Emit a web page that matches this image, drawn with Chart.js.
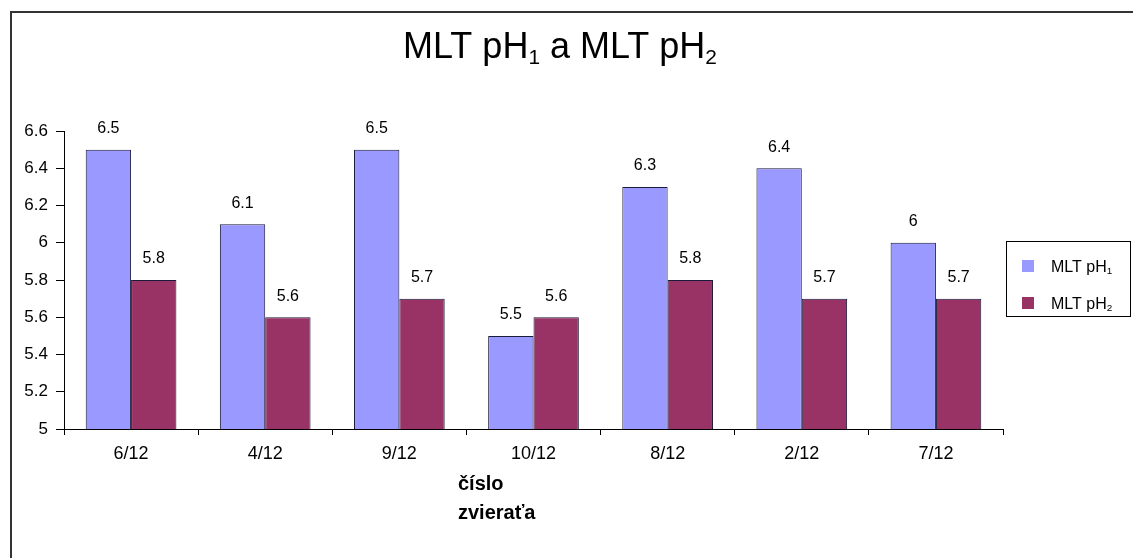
<!DOCTYPE html>
<html>
<head>
<meta charset="utf-8">
<script src="https://cdn.jsdelivr.net/npm/chart.js@4/dist/chart.umd.min.js"></script>
<style>
  html, body { margin: 0; padding: 0; background: #fff; }
  #wrap { width: 1133px; height: 558px; }
</style>
</head>
<body>
<div id="wrap"><canvas id="c" width="1133" height="558"></canvas></div>
<script>
// Animal numbers along the category axis
const categories = ['6/12', '4/12', '9/12', '10/12', '8/12', '2/12', '7/12'];
// Series values (pH)
const ph1Values = [6.5, 6.1, 6.5, 5.5, 6.3, 6.4, 6.0];
const ph2Values = [5.8, 5.6, 5.7, 5.6, 5.8, 5.7, 5.7];
// Series names
const seriesNames = ['MLT pH₁', 'MLT pH₂'];
// Value axis ticks and their labels
const yTickValues = [5, 5.2, 5.4, 5.6, 5.8, 6, 6.2, 6.4, 6.6];
const yTickLabels = ['5', '5.2', '5.4', '5.6', '5.8', '6', '6.2', '6.4', '6.6'];
const titleText = 'MLT pH₁ a MLT pH₂';
const axisTitleLines = ['číslo', 'zvieraťa'];

const FONT = "'Liberation Sans', Arial, sans-serif";
const SUBS = '₀₁₂₃₄₅₆₇₈₉';

// Split text into normal runs and subscript digit runs
function runs(text) {
  const out = [];
  for (const ch of text) {
    const i = SUBS.indexOf(ch);
    const sub = i >= 0;
    const c = sub ? String(i) : ch;
    if (out.length && out[out.length - 1].sub === sub) out[out.length - 1].t += c;
    else out.push({ t: c, sub });
  }
  return out;
}
function richWidth(ctx, text, size, subRatio) {
  let w = 0;
  for (const r of runs(text)) {
    ctx.font = (r.sub ? size * subRatio : size) + 'px ' + FONT;
    w += ctx.measureText(r.t).width;
  }
  return w;
}
function drawRich(ctx, text, x, y, size, subRatio, subDrop) {
  ctx.textAlign = 'left';
  ctx.textBaseline = 'alphabetic';
  for (const r of runs(text)) {
    ctx.font = (r.sub ? size * subRatio : size) + 'px ' + FONT;
    ctx.fillText(r.t, x, r.sub ? y + size * subDrop : y);
    x += ctx.measureText(r.t).width;
  }
}

const decorPlugin = {
  id: 'decor',
  beforeDraw(chart) {
    const ctx = chart.ctx;
    ctx.save();
    ctx.fillStyle = '#fff';
    ctx.fillRect(0, 0, chart.width, chart.height);
    // frame
    ctx.strokeStyle = '#333';
    ctx.lineWidth = 2;
    ctx.beginPath();
    ctx.moveTo(11, chart.height + 2);
    ctx.lineTo(11, 12);
    ctx.lineTo(chart.width + 2, 12);
    ctx.stroke();
    ctx.restore();
  },
  afterDraw(chart) {
    const ctx = chart.ctx;
    ctx.save();
    ctx.fillStyle = '#000';
    // title
    const tSize = 36;
    const tw = richWidth(ctx, titleText, tSize, 0.58);
    drawRich(ctx, titleText, 560 - tw / 2, 58, tSize, 0.58, 0.18);

    // axis title, left aligned lines
    ctx.font = 'bold 20px ' + FONT;
    ctx.textAlign = 'left';
    ctx.textBaseline = 'alphabetic';
    axisTitleLines.forEach((line, i) => ctx.fillText(line, 458, 490 + i * 29));

    // legend
    const lx = 1006, ly = 241, lw = 124, lh = 75;
    ctx.strokeStyle = '#000';
    ctx.lineWidth = 1;
    ctx.strokeRect(lx + 0.5, ly + 0.5, lw, lh);
    chart.data.datasets.forEach((ds, i) => {
      const cy = 266 + i * 37;
      ctx.fillStyle = ds.backgroundColor;
      ctx.fillRect(1022, cy - 6, 12, 12);
      ctx.fillStyle = '#000';
      drawRich(ctx, ds.label, 1051, cy + 6, 16, 0.62, 0.15);
    });

    // value labels above bars
    ctx.font = '16px ' + FONT;
    ctx.textAlign = 'center';
    ctx.textBaseline = 'middle';
    ctx.fillStyle = '#000';
    chart.data.datasets.forEach((ds, di) => {
      const meta = chart.getDatasetMeta(di);
      meta.data.forEach((bar, j) => {
        ctx.fillText(String(ds.data[j]), bar.x, bar.y - 21);
      });
    });
    ctx.restore();
  }
};

new Chart(document.getElementById('c'), {
  type: 'bar',
  data: {
    labels: categories,
    datasets: [
      { label: seriesNames[0], data: ph1Values, backgroundColor: '#9999ff', borderColor: '#1a1a3a', borderWidth: 1, borderSkipped: false },
      { label: seriesNames[1], data: ph2Values, backgroundColor: '#993366', borderColor: '#1a1a3a', borderWidth: 1, borderSkipped: false }
    ]
  },
  options: {
    responsive: false,
    animation: false,
    layout: { padding: { top: 131, right: 130, bottom: 0, left: 0 } },
    plugins: { legend: { display: false }, title: { display: false }, tooltip: { enabled: false } },
    datasets: { bar: { categoryPercentage: 0.676, barPercentage: 1 } },
    scales: {
      x: {
        grid: { offset: true, drawOnChartArea: false, tickLength: 6, color: '#000', tickColor: '#000' },
        border: { color: '#000', width: 1 },
        ticks: { color: '#000', font: { family: FONT, size: 18 }, padding: 8, maxRotation: 0 },
        afterFit(scale) { scale.height = 129; }
      },
      y: {
        min: 5,
        max: 6.6,
        afterBuildTicks(scale) { scale.ticks = yTickValues.map(v => ({ value: v })); },
        grid: { drawOnChartArea: false, tickLength: 8, color: '#000', tickColor: '#000' },
        border: { color: '#000', width: 1 },
        ticks: {
          color: '#000', font: { family: FONT, size: 17 }, padding: 8,
          callback: (v, i) => yTickLabels[i]
        },
        afterFit(scale) { scale.width = 64; }
      }
    }
  },
  plugins: [decorPlugin]
});
</script>
</body>
</html>
